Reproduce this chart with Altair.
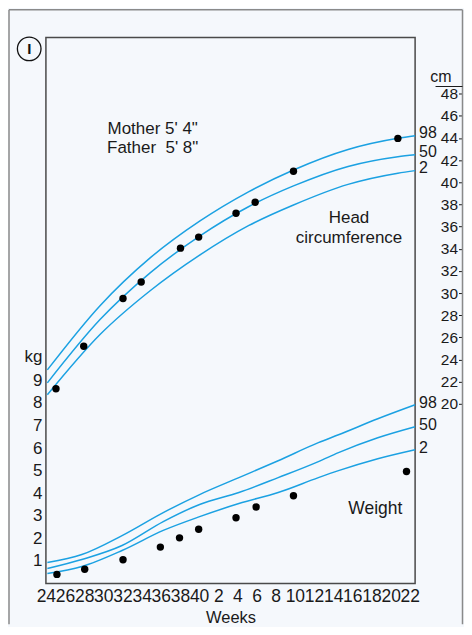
import altair as alt
import pandas as pd

# ---------------- data ----------------
# x axis: weeks of gestation 24-40, then weeks after birth 2-22 (plotted as 42-62)
x_tick_values = [24, 26, 28, 30, 32, 34, 36, 38, 40, 42, 44, 46, 48, 50, 52, 54, 56, 58, 60, 62]
x_tick_labels = ["24", "26", "28", "30", "32", "34", "36", "38", "40",
                 "2", "4", "6", "8", "10", "12", "14", "16", "18", "20", "22"]
kg_ticks = [1, 2, 3, 4, 5, 6, 7, 8, 9]
cm_ticks = [20, 22, 24, 26, 28, 30, 32, 34, 36, 38, 40, 42, 44, 46, 48]

centile_names = ["98", "50", "2"]

# head circumference centile curves (cm)
head_weeks = [24.0, 29.5, 34.7, 39.9, 45.0, 49.7, 55.4, 60.6, 62.4]
head_98 = [23.06, 28.86, 33.15, 36.49, 39.14, 41.11, 42.96, 43.97, 44.20]
head_50 = [21.89, 27.60, 31.80, 35.14, 37.79, 39.67, 41.43, 42.31, 42.49]
head_2 = [20.81, 26.25, 30.18, 33.42, 36.08, 37.95, 39.81, 40.82, 41.05]

# measured head circumference (cm)
head_dot_weeks = [24.9, 27.8, 31.9, 33.8, 37.9, 39.8, 43.7, 45.7, 49.7, 60.6]
head_dot_cm = [21.35, 25.2, 29.5, 31.0, 34.05, 35.05, 37.2, 38.2, 41.0, 43.96]

# weight centile curves (kg)
weight_weeks = [24.0, 27.6, 31.8, 36.1, 39.9, 44.0, 48.1, 52.3, 54.4, 58.5, 62.4]
weight_98 = [0.93, 1.28, 2.12, 3.14, 3.94, 4.69, 5.44, 6.24, 6.59, 7.30, 7.92]
weight_50 = [0.66, 1.06, 1.68, 2.74, 3.50, 4.03, 4.69, 5.40, 5.80, 6.46, 6.95]
weight_2 = [0.44, 0.75, 1.46, 2.35, 2.96, 3.54, 4.03, 4.69, 5.00, 5.53, 5.93]

# measured weight (kg)
weight_dot_weeks = [25.0, 27.9, 31.9, 35.8, 37.8, 39.8, 43.7, 45.8, 49.7, 61.5]
weight_dot_kg = [0.40, 0.63, 1.05, 1.61, 2.02, 2.40, 2.91, 3.39, 3.89, 4.96]

# annotations (data coordinates)
head_notes = ["Mother 5' 4\"", "Father\u00a0 5' 8\"", "Head", "circumference"]
head_note_weeks = [35.0, 35.0, 55.5, 55.5]
head_note_cm = [44.77, 43.06, 36.76, 34.95]
weight_notes = ["Weight"]
weight_note_weeks = [58.25]
weight_note_kg = [3.32]

# ---------------- styling ----------------
FONT = "Liberation Sans"
INK = "#1a1a1a"
BLUE = "#1ba1e2"
BG = "#f5f8fc"
W, H = 370, 547
RIGHT_EDGE = 417.5  # outer frame / cm axis line, relative to plot left

label_expr = ("[" + ",".join("'%s'" % s for s in x_tick_labels) + "][indexof(["
              + ",".join(str(v) for v in x_tick_values) + "], datum.value)]")

X = alt.X(
    "week:Q",
    scale=alt.Scale(domain=[23.85, 62.4], nice=False, zero=False),
    axis=alt.Axis(values=x_tick_values, labelExpr=label_expr, ticks=False, tickSize=0,
                  domain=False, grid=False, labelPadding=4, labelFontSize=17.5,
                  labelOffset=-1.5, labelOverlap=False, labelFlush=False, labelBound=False,
                  title="Weeks", titleFontSize=16.5, titleFontWeight="normal", titlePadding=5),
)

Y_KG = alt.Y(
    "kg:Q",
    scale=alt.Scale(domain=[0, 24.2], nice=False, zero=False),
    axis=alt.Axis(orient="left", values=kg_ticks, ticks=False, tickSize=0, domain=False,
                  grid=False, labelPadding=4, labelFontSize=17, labelOverlap=False,
                  title="kg", titleAngle=0, titleAlign="right", titleBaseline="middle",
                  titleX=-4, titleY=320, titleFontSize=17, titleFontWeight="normal"),
)

Y_CM = alt.Y(
    "cm:Q",
    scale=alt.Scale(domain=[3.78, 53.06], nice=False, zero=False),
    axis=alt.Axis(orient="left", offset=-RIGHT_EDGE, values=cm_ticks, tickSize=4, tickWidth=1,
                  tickColor=INK, domain=False, grid=False, labelPadding=1, labelFontSize=15.5,
                  labelOverlap=False,
                  title="cm", titleAngle=0, titleAlign="right", titleBaseline="middle",
                  titleX=-11.5, titleY=39, titleFontSize=16, titleFontWeight="normal"),
)

# ---------------- tables ----------------
w_lines_df = pd.DataFrame({
    "week": weight_weeks * 3,
    "kg": weight_98 + weight_50 + weight_2,
    "centile": sum([[c] * len(weight_weeks) for c in centile_names], []),
})
w_dots_df = pd.DataFrame({"week": weight_dot_weeks, "kg": weight_dot_kg})
w_end_df = pd.DataFrame({"week": [weight_weeks[-1]] * 3,
                         "kg": [weight_98[-1], weight_50[-1], weight_2[-1]],
                         "label": centile_names})
w_note_df = pd.DataFrame({"week": weight_note_weeks, "kg": weight_note_kg, "label": weight_notes})

h_lines_df = pd.DataFrame({
    "week": head_weeks * 3,
    "cm": head_98 + head_50 + head_2,
    "centile": sum([[c] * len(head_weeks) for c in centile_names], []),
})
h_dots_df = pd.DataFrame({"week": head_dot_weeks, "cm": head_dot_cm})
h_end_df = pd.DataFrame({"week": [head_weeks[-1]] * 3,
                         "cm": [head_98[-1], head_50[-1], head_2[-1]],
                         "label": centile_names})
h_note_df = pd.DataFrame({"week": head_note_weeks, "cm": head_note_cm, "label": head_notes})

# ---------------- weight layer ----------------
w_lines = alt.Chart(w_lines_df).mark_line(color=BLUE, strokeWidth=1.5, interpolate="monotone").encode(
    x=X, y=Y_KG, detail="centile:N")
w_dots = alt.Chart(w_dots_df).mark_circle(color="black", size=55, opacity=1).encode(x=X, y=Y_KG)
w_end = alt.Chart(w_end_df).mark_text(align="left", baseline="middle", dx=4, dy=-2, fontSize=16,
                                      color=INK, font=FONT).encode(x=X, y=Y_KG, text="label:N")
w_note = alt.Chart(w_note_df).mark_text(align="center", baseline="middle", fontSize=17.5,
                                        color=INK, font=FONT).encode(x=X, y=Y_KG, text="label:N")
weight = alt.layer(w_lines, w_dots, w_end, w_note)

# ---------------- head layer ----------------
h_lines = alt.Chart(h_lines_df).mark_line(color=BLUE, strokeWidth=1.5, interpolate="monotone").encode(
    x=X, y=Y_CM, detail="centile:N")
h_dots = alt.Chart(h_dots_df).mark_circle(color="black", size=55, opacity=1).encode(x=X, y=Y_CM)
h_end = alt.Chart(h_end_df).mark_text(align="left", baseline="middle", dx=4, dy=-3, fontSize=16,
                                      color=INK, font=FONT).encode(x=X, y=Y_CM, text="label:N")
h_note = alt.Chart(h_note_df).mark_text(align="center", baseline="middle", fontSize=17,
                                        color=INK, font=FONT).encode(x=X, y=Y_CM, text="label:N")
head = alt.layer(h_lines, h_dots, h_end, h_note)

# ---------------- decoration: outer frame, "cm" underline, panel badge ----------------
one = pd.DataFrame({"d": [0]})
FRAME = "#8a8a8a"
frame_top = alt.Chart(one).mark_rule(color=FRAME, strokeWidth=1.5).encode(
    x=alt.value(-37), x2=alt.value(RIGHT_EDGE), y=alt.value(-28))
frame_left = alt.Chart(one).mark_rule(color=FRAME, strokeWidth=1.5).encode(
    x=alt.value(-37), y=alt.value(-28), y2=alt.value(588))
frame_right = alt.Chart(one).mark_rule(color=FRAME, strokeWidth=1.5).encode(
    x=alt.value(RIGHT_EDGE), y=alt.value(-28), y2=alt.value(588))
cm_line = alt.Chart(one).mark_rule(color=INK, strokeWidth=1).encode(
    x=alt.value(RIGHT_EDGE - 27), x2=alt.value(RIGHT_EDGE), y=alt.value(49))
badge = alt.Chart(one).mark_point(shape="circle", filled=False, size=560, color="#111",
                                  strokeWidth=1.3, opacity=1).encode(x=alt.value(-16.75), y=alt.value(11.25))
badge_txt = alt.Chart(one).mark_text(text="I", fontSize=15, fontWeight="bold", color="#111",
                                     align="center", baseline="middle", font=FONT).encode(
    x=alt.value(-16.75), y=alt.value(11.75))

chart = alt.layer(
    frame_top, frame_left, frame_right, cm_line, badge, badge_txt, weight, head
).resolve_scale(y="independent").properties(
    width=W, height=H,
    padding={"left": 0, "top": 0, "right": 0, "bottom": 0},
).configure(
    background=BG, font=FONT,
).configure_view(
    stroke="#4a4a4a", strokeWidth=1.5,
).configure_axis(
    labelColor=INK, titleColor=INK, labelFont=FONT, titleFont=FONT,
)

chart.save("out.html", embed_options={"renderer": "svg", "actions": False})
